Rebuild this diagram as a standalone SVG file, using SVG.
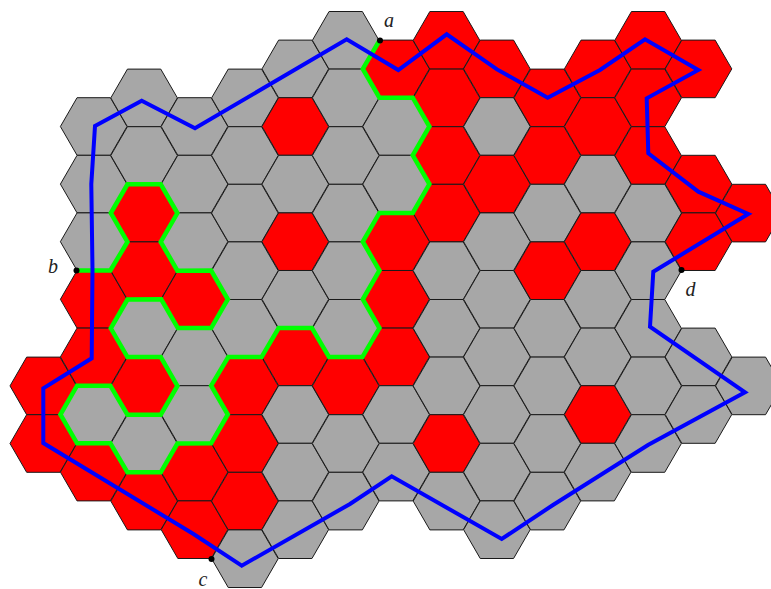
<svg xmlns="http://www.w3.org/2000/svg" width="771" height="589" viewBox="0 0 771 589">
<style>
.g{fill:#a7a7a7;stroke:#1a1a1a;stroke-width:1}
.r{fill:#ff0000;stroke:#1a1a1a;stroke-width:1}
.green{fill:none;stroke:#00ff00;stroke-width:4.5;stroke-linejoin:miter}
.blue{fill:none;stroke:#0000ff;stroke-width:4;stroke-linejoin:miter}
.pt{fill:#000}
.lbl{font-family:"Liberation Serif","Times New Roman",serif;font-style:italic;font-size:20px;fill:#222;text-anchor:middle}
</style>
<defs>
<polygon id="hx" points="-33.3,0 -16.65,-28.8 16.65,-28.8 33.3,0 16.65,28.8 -16.65,28.8"/>
</defs>
<rect width="771" height="589" fill="#fff"/>
<g id="hexes">
<use id="h0-6" href="#hx" x="43.3" y="385.9" class="r"/>
<use id="h0-7" href="#hx" x="43.3" y="443.5" class="r"/>
<use id="h1-1" href="#hx" x="93.7" y="126.5" class="g"/>
<use id="h1-2" href="#hx" x="93.7" y="184.1" class="g"/>
<use id="h1-3" href="#hx" x="93.7" y="241.7" class="g"/>
<use id="h1-4" href="#hx" x="93.7" y="299.3" class="r"/>
<use id="h1-5" href="#hx" x="93.7" y="356.9" class="r"/>
<use id="h1-6" href="#hx" x="93.7" y="414.5" class="g"/>
<use id="h1-7" href="#hx" x="93.7" y="472.1" class="r"/>
<use id="h2-1" href="#hx" x="144.1" y="97.9" class="g"/>
<use id="h2-2" href="#hx" x="144.1" y="155.5" class="g"/>
<use id="h2-3" href="#hx" x="144.1" y="213.1" class="r"/>
<use id="h2-4" href="#hx" x="144.1" y="270.7" class="r"/>
<use id="h2-5" href="#hx" x="144.1" y="328.3" class="g"/>
<use id="h2-6" href="#hx" x="144.1" y="385.9" class="r"/>
<use id="h2-7" href="#hx" x="144.1" y="443.5" class="g"/>
<use id="h2-8" href="#hx" x="144.1" y="501.1" class="r"/>
<use id="h3-1" href="#hx" x="194.5" y="126.5" class="g"/>
<use id="h3-2" href="#hx" x="194.5" y="184.1" class="g"/>
<use id="h3-3" href="#hx" x="194.5" y="241.7" class="g"/>
<use id="h3-4" href="#hx" x="194.5" y="299.3" class="r"/>
<use id="h3-5" href="#hx" x="194.5" y="356.9" class="g"/>
<use id="h3-6" href="#hx" x="194.5" y="414.5" class="g"/>
<use id="h3-7" href="#hx" x="194.5" y="472.1" class="r"/>
<use id="h3-8" href="#hx" x="194.5" y="529.7" class="r"/>
<use id="h4-1" href="#hx" x="244.9" y="97.9" class="g"/>
<use id="h4-2" href="#hx" x="244.9" y="155.5" class="g"/>
<use id="h4-3" href="#hx" x="244.9" y="213.1" class="g"/>
<use id="h4-4" href="#hx" x="244.9" y="270.7" class="g"/>
<use id="h4-5" href="#hx" x="244.9" y="328.3" class="g"/>
<use id="h4-6" href="#hx" x="244.9" y="385.9" class="r"/>
<use id="h4-7" href="#hx" x="244.9" y="443.5" class="r"/>
<use id="h4-8" href="#hx" x="244.9" y="501.1" class="r"/>
<use id="h4-9" href="#hx" x="244.9" y="558.7" class="g"/>
<use id="h5-0" href="#hx" x="295.3" y="68.9" class="g"/>
<use id="h5-1" href="#hx" x="295.3" y="126.5" class="r"/>
<use id="h5-2" href="#hx" x="295.3" y="184.1" class="g"/>
<use id="h5-3" href="#hx" x="295.3" y="241.7" class="r"/>
<use id="h5-4" href="#hx" x="295.3" y="299.3" class="g"/>
<use id="h5-5" href="#hx" x="295.3" y="356.9" class="r"/>
<use id="h5-6" href="#hx" x="295.3" y="414.5" class="g"/>
<use id="h5-7" href="#hx" x="295.3" y="472.1" class="g"/>
<use id="h5-8" href="#hx" x="295.3" y="529.7" class="g"/>
<use id="h6-0" href="#hx" x="345.7" y="40.3" class="g"/>
<use id="h6-1" href="#hx" x="345.7" y="97.9" class="g"/>
<use id="h6-2" href="#hx" x="345.7" y="155.5" class="g"/>
<use id="h6-3" href="#hx" x="345.7" y="213.1" class="g"/>
<use id="h6-4" href="#hx" x="345.7" y="270.7" class="g"/>
<use id="h6-5" href="#hx" x="345.7" y="328.3" class="g"/>
<use id="h6-6" href="#hx" x="345.7" y="385.9" class="r"/>
<use id="h6-7" href="#hx" x="345.7" y="443.5" class="g"/>
<use id="h6-8" href="#hx" x="345.7" y="501.1" class="g"/>
<use id="h7-0" href="#hx" x="396.1" y="68.9" class="r"/>
<use id="h7-1" href="#hx" x="396.1" y="126.5" class="g"/>
<use id="h7-2" href="#hx" x="396.1" y="184.1" class="g"/>
<use id="h7-3" href="#hx" x="396.1" y="241.7" class="r"/>
<use id="h7-4" href="#hx" x="396.1" y="299.3" class="r"/>
<use id="h7-5" href="#hx" x="396.1" y="356.9" class="r"/>
<use id="h7-6" href="#hx" x="396.1" y="414.5" class="g"/>
<use id="h7-7" href="#hx" x="396.1" y="472.1" class="g"/>
<use id="h8-0" href="#hx" x="446.5" y="40.3" class="r"/>
<use id="h8-1" href="#hx" x="446.5" y="97.9" class="r"/>
<use id="h8-2" href="#hx" x="446.5" y="155.5" class="r"/>
<use id="h8-3" href="#hx" x="446.5" y="213.1" class="r"/>
<use id="h8-4" href="#hx" x="446.5" y="270.7" class="g"/>
<use id="h8-5" href="#hx" x="446.5" y="328.3" class="g"/>
<use id="h8-6" href="#hx" x="446.5" y="385.9" class="g"/>
<use id="h8-7" href="#hx" x="446.5" y="443.5" class="r"/>
<use id="h8-8" href="#hx" x="446.5" y="501.1" class="g"/>
<use id="h9-0" href="#hx" x="496.9" y="68.9" class="r"/>
<use id="h9-1" href="#hx" x="496.9" y="126.5" class="g"/>
<use id="h9-2" href="#hx" x="496.9" y="184.1" class="r"/>
<use id="h9-3" href="#hx" x="496.9" y="241.7" class="g"/>
<use id="h9-4" href="#hx" x="496.9" y="299.3" class="g"/>
<use id="h9-5" href="#hx" x="496.9" y="356.9" class="g"/>
<use id="h9-6" href="#hx" x="496.9" y="414.5" class="g"/>
<use id="h9-7" href="#hx" x="496.9" y="472.1" class="g"/>
<use id="h9-8" href="#hx" x="496.9" y="529.7" class="g"/>
<use id="h10-1" href="#hx" x="547.3" y="97.9" class="r"/>
<use id="h10-2" href="#hx" x="547.3" y="155.5" class="r"/>
<use id="h10-3" href="#hx" x="547.3" y="213.1" class="g"/>
<use id="h10-4" href="#hx" x="547.3" y="270.7" class="r"/>
<use id="h10-5" href="#hx" x="547.3" y="328.3" class="g"/>
<use id="h10-6" href="#hx" x="547.3" y="385.9" class="g"/>
<use id="h10-7" href="#hx" x="547.3" y="443.5" class="g"/>
<use id="h10-8" href="#hx" x="547.3" y="501.1" class="g"/>
<use id="h11-0" href="#hx" x="597.7" y="68.9" class="r"/>
<use id="h11-1" href="#hx" x="597.7" y="126.5" class="r"/>
<use id="h11-2" href="#hx" x="597.7" y="184.1" class="g"/>
<use id="h11-3" href="#hx" x="597.7" y="241.7" class="r"/>
<use id="h11-4" href="#hx" x="597.7" y="299.3" class="g"/>
<use id="h11-5" href="#hx" x="597.7" y="356.9" class="g"/>
<use id="h11-6" href="#hx" x="597.7" y="414.5" class="r"/>
<use id="h11-7" href="#hx" x="597.7" y="472.1" class="g"/>
<use id="h12-0" href="#hx" x="648.1" y="40.3" class="r"/>
<use id="h12-1" href="#hx" x="648.1" y="97.9" class="r"/>
<use id="h12-2" href="#hx" x="648.1" y="155.5" class="r"/>
<use id="h12-3" href="#hx" x="648.1" y="213.1" class="g"/>
<use id="h12-4" href="#hx" x="648.1" y="270.7" class="g"/>
<use id="h12-5" href="#hx" x="648.1" y="328.3" class="g"/>
<use id="h12-6" href="#hx" x="648.1" y="385.9" class="g"/>
<use id="h12-7" href="#hx" x="648.1" y="443.5" class="g"/>
<use id="h13-0" href="#hx" x="698.5" y="68.9" class="r"/>
<use id="h13-2" href="#hx" x="698.5" y="184.1" class="r"/>
<use id="h13-3" href="#hx" x="698.5" y="241.7" class="r"/>
<use id="h13-5" href="#hx" x="698.5" y="356.9" class="g"/>
<use id="h13-6" href="#hx" x="698.5" y="414.5" class="g"/>
<use id="h14-3" href="#hx" x="748.9" y="213.1" class="r"/>
<use id="h14-6" href="#hx" x="748.9" y="385.9" class="g"/>
</g>
<g id="connectors">
<path id="green-path" class="green" d="M77.05,270.5 L110.35,270.5 L127.45,241.9 L110.8,213.1 L127.45,184.3 L160.75,184.3 L177.4,213.1 L160.75,241.9 L177.4,270.7 L211.15,270.5 L227.8,299.3 L211.15,328.1 L177.85,328.1 L161.2,299.3 L127.45,299.5 L110.8,328.3 L127.45,357.1 L160.75,357.1 L177.4,385.9 L160.75,414.7 L127.45,414.7 L110.35,385.7 L77.05,385.7 L60.4,414.5 L77.05,443.3 L110.35,443.3 L127.45,472.3 L160.75,472.3 L177.4,443.5 L211.15,443.3 L227.8,414.5 L211.15,385.7 L228.25,357.1 L261.55,357.1 L278.65,328.1 L311.95,328.1 L329.05,357.1 L362.35,357.1 L379.45,328.1 L362.8,299.3 L379.45,270.5 L362.8,241.7 L379.45,212.9 L412.75,212.9 L429.4,184.1 L412.75,155.3 L429.4,126.5 L412.75,97.7 L379.45,97.7 L362.8,68.9 L379.5,40.5"/>
<path id="blue-loop" class="blue" d="M241.7,565.7 L193.5,534 L43.3,443 L43.3,388.3 L91.7,358.3 L92.5,270 L91.3,184 L95,126 L141.7,100.7 L195,128.3 L346.7,39.3 L398.3,70 L446.7,34.3 L497,69.4 L547.7,97.7 L600,70 L645,39.3 L698.3,70 L646.7,98.3 L648.3,153.3 L698.3,191.7 L748.3,214 L653.3,271.7 L650,326.7 L745,392.3 L648,445 L553,505 L501.7,539 L391.7,476.3 L350,504 Z"/>
</g>
<g id="point-a"><circle class="pt" cx="380" cy="40.5" r="3"/><text class="lbl" x="389" y="26.5">a</text></g>
<g id="point-b"><circle class="pt" cx="76.5" cy="270.5" r="3"/><text class="lbl" x="53" y="273">b</text></g>
<g id="point-c"><circle class="pt" cx="211.5" cy="559" r="3"/><text class="lbl" x="203" y="586">c</text></g>
<g id="point-d"><circle class="pt" cx="681.5" cy="270" r="3"/><text class="lbl" x="690.5" y="296">d</text></g>
</svg>
